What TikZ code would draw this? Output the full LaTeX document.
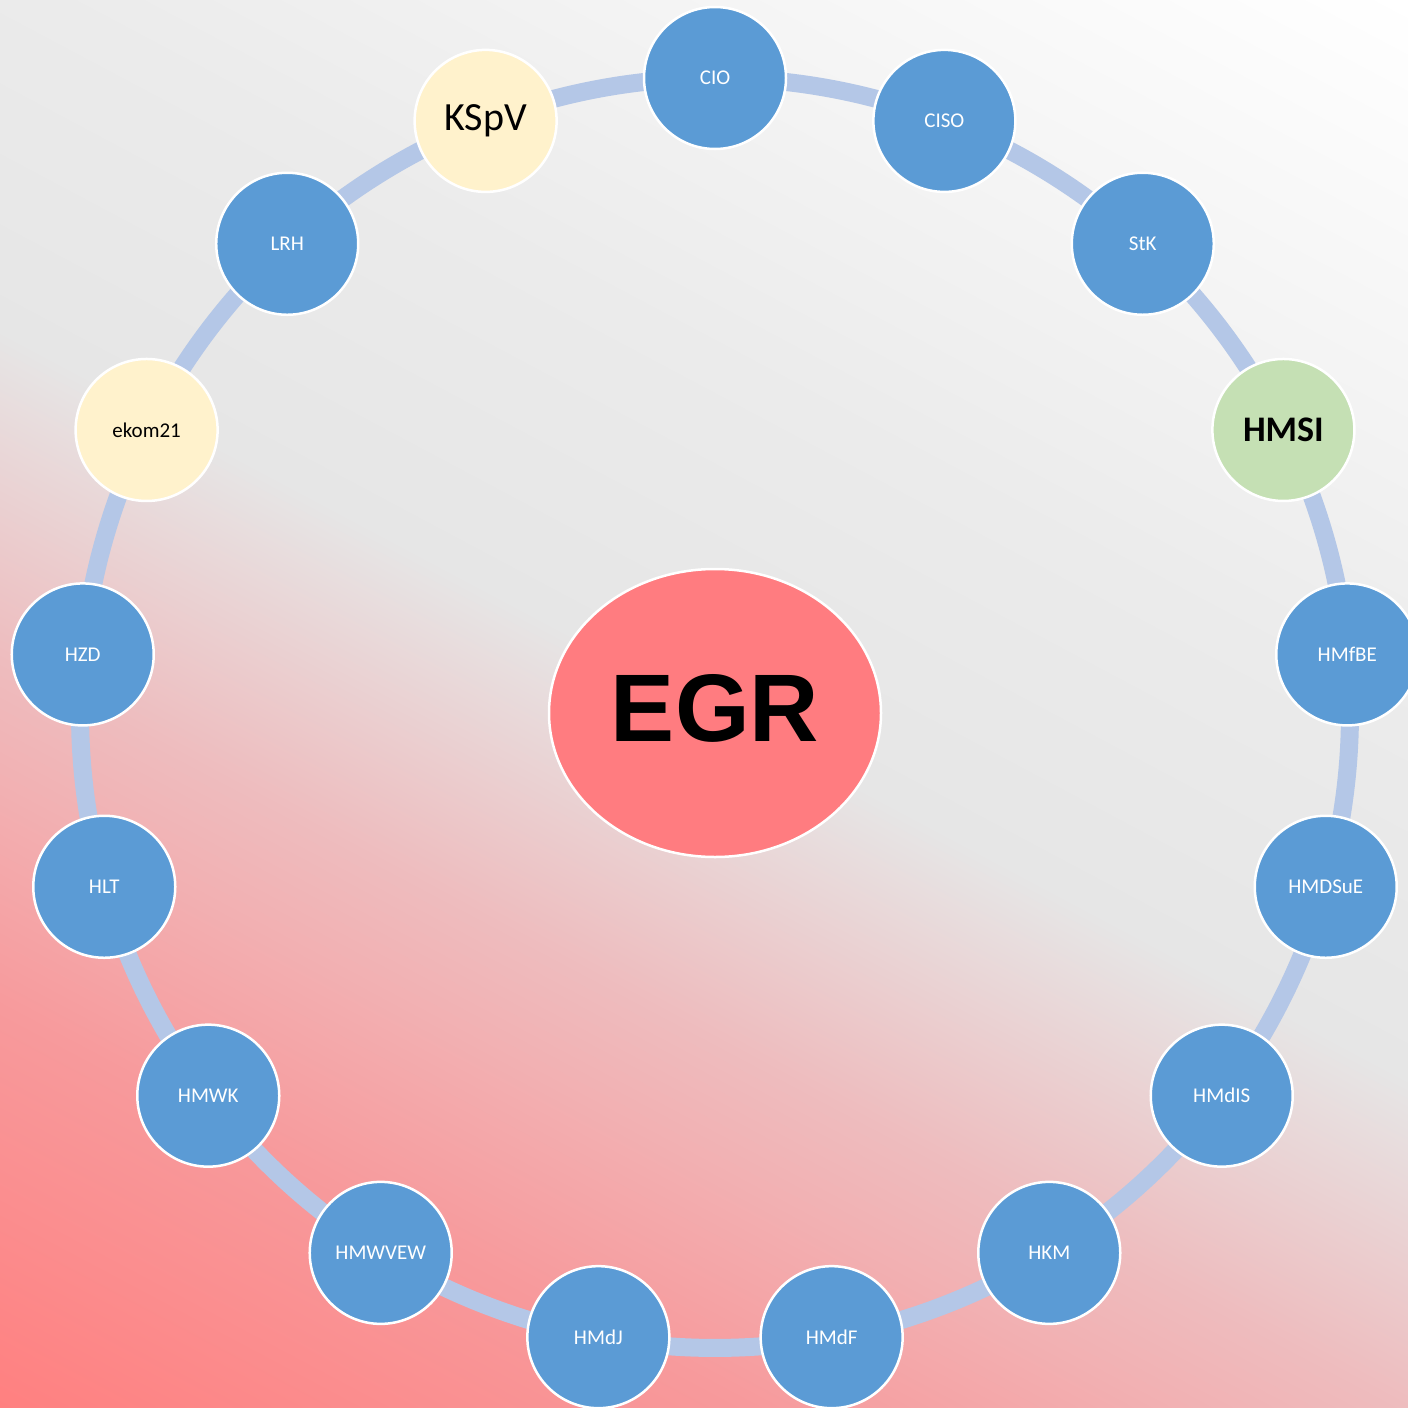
\documentclass[tikz,border=0pt]{standalone}
\usepackage{fontspec}
\setmainfont{Carlito}
\newfontfamily\headfont{Liberation Sans}
\usetikzlibrary{shapes.geometric}

\pgfdeclarelayer{backdrop}
\pgfdeclarelayer{ring}
\pgfsetlayers{backdrop,ring,main}

\definecolor{nodeblue}{HTML}{5B9BD5}
\definecolor{ringblue}{HTML}{B4C7E7}
\definecolor{paleyellow}{HTML}{FFF2CC}
\definecolor{palegreen}{HTML}{C5E0B4}
\definecolor{egrred}{HTML}{FF7C80}
% backdrop gradient colours, from the red corner to the white corner
\definecolor{bgred}{HTML}{FF8080}
\definecolor{bgpinkA}{HTML}{F79A9C}
\definecolor{bgpinkB}{HTML}{F2B0B2}
\definecolor{bgpinkC}{HTML}{EEBCBE}
\definecolor{bggray}{HTML}{E6E6E6}
\definecolor{bglight}{HTML}{EBEBEB}

\pgfdeclareverticalshading{backwash}{100bp}{%
  color(0bp)=(bgred); color(25bp)=(bgred);
  color(34.3bp)=(bgpinkA); color(39.34bp)=(bgpinkB);
  color(42.36bp)=(bgpinkC); color(50bp)=(bggray);
  color(58.17bp)=(bglight); color(75bp)=(white); color(100bp)=(white)}

\tikzset{
  member/.style={circle, minimum size=142pt, inner sep=0pt, draw=white,
    line width=2.5pt, fill=nodeblue, text=white,
    font=\fontsize{21}{25}\selectfont},
  partner/.style={member, fill=paleyellow, text=black},
  lead/.style={member, fill=palegreen, text=black,
    font=\bfseries\fontsize{36}{40}\selectfont},
  ringline/.style={draw=ringblue, line width=18pt, bend left=10.59, looseness=0.86},
  hub/.style={ellipse, minimum width=332pt, minimum height=288pt, inner sep=0pt,
    fill=egrred, draw=white, line width=2.5pt, text=black, text depth=10pt,
    font=\headfont\bfseries\fontsize{96}{96}\selectfont}
}

\begin{document}
\begin{tikzpicture}[x=1pt, y=-1pt]
\useasboundingbox (0,0) rectangle (1408,1408);

% diagonal wash: white top right, grey middle, red bottom left
\begin{pgfonlayer}{backdrop}
  \clip (0,0) rectangle (1408,1408);
  \begin{scope}[transform canvas={rotate around={-28:(704,704)}}]
    \shade[shading=backwash] (-296,-248) rectangle (1704,1656);
  \end{scope}
\end{pgfonlayer}

% central body
\node[hub] (EGR) at (715,713) {EGR};

% seventeen members on a ring of radius 635 around (715,713)
\begin{scope}[shift={(715,713)}]
  \node[member]  (CIO)    at ({0*360/17-90}:635)  {CIO};
  \node[member]  (CISO)   at ({1*360/17-90}:635)  {CISO};
  \node[member]  (StK)    at ({2*360/17-90}:635)  {StK};
  \node[lead]    (HMSI)   at ({3*360/17-90}:635)  {HMSI};
  \node[member]  (HMfBE)  at ({4*360/17-90}:635)  {HMfBE};
  \node[member]  (HMDSuE) at ({5*360/17-90}:635)  {HMDSuE};
  \node[member]  (HMdIS)  at ({6*360/17-90}:635)  {HMdIS};
  \node[member]  (HKM)    at ({7*360/17-90}:635)  {HKM};
  \node[member]  (HMdF)   at ({8*360/17-90}:635)  {HMdF};
  \node[member]  (HMdJ)   at ({9*360/17-90}:635)  {HMdJ};
  \node[member]  (HMWVEW) at ({10*360/17-90}:635) {HMWVEW};
  \node[member]  (HMWK)   at ({11*360/17-90}:635) {HMWK};
  \node[member]  (HLT)    at ({12*360/17-90}:635) {HLT};
  \node[member]  (HZD)    at ({13*360/17-90}:635) {HZD};
  \node[partner] (ekom)   at ({14*360/17-90}:635) {ekom21};
  \node[member]  (LRH)    at ({15*360/17-90}:635) {LRH};
  \node[partner, font=\fontsize{40}{44}\selectfont]
                 (KSpV)   at ({16*360/17-90}:635) {KSpV};
\end{scope}

% ring segments joining neighbouring members
\begin{pgfonlayer}{ring}
  \foreach \a/\b in {CIO/CISO, CISO/StK, StK/HMSI, HMSI/HMfBE, HMfBE/HMDSuE,
      HMDSuE/HMdIS, HMdIS/HKM, HKM/HMdF, HMdF/HMdJ, HMdJ/HMWVEW, HMWVEW/HMWK,
      HMWK/HLT, HLT/HZD, HZD/ekom, ekom/LRH, LRH/KSpV, KSpV/CIO}
    \draw[ringline] (\a.center) to (\b.center);
\end{pgfonlayer}
\end{tikzpicture}
\end{document}
